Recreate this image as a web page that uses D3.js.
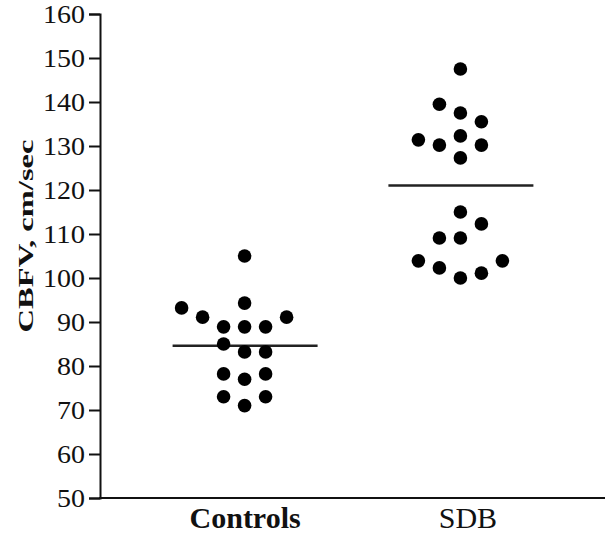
<!DOCTYPE html>
<html>
<head>
<meta charset="utf-8">
<title>CBFV</title>
<style>
  body { margin: 0; background: #fff; }
  text { font-family: "Liberation Serif", "Times New Roman", serif; fill: #111; }
</style>
</head>
<body>
<div id="chart"></div>
<script src="https://cdnjs.cloudflare.com/ajax/libs/d3/7.8.5/d3.min.js"></script>
<script>
const groups = ['Controls', 'SDB'];
const controlsValues = [105, 94.3, 93.2, 91.1, 91.1, 88.9, 88.9, 88.9, 85, 83.2, 83.2, 78.2, 78.2, 77, 73, 73, 71];
const controlsSlots  = [0, 0, -3, -2, 2, -1, 0, 1, -1, 0, 1, -1, 1, 0, -1, 1, 0];
const sdbValues = [147.5, 139.5, 137.5, 135.5, 132.3, 131.4, 130.2, 130.2, 127.3,
                   115, 112.3, 109.1, 109.1, 103.9, 103.9, 102.3, 101.1, 100];
const sdbSlots  = [0, -1, 0, 1, 0, -2, -1, 1, 0, 0, 1, -1, 0, -2, 2, -1, 1, 0];
const means = [84.6, 121];
const yTicks = [50, 60, 70, 80, 90, 100, 110, 120, 130, 140, 150, 160];

const width = 611, height = 533;
const svg = d3.select('#chart').append('svg')
  .attr('width', width)
  .attr('height', height);

const x = d3.scalePoint().domain(groups).range([100, 605]).padding(0.67);
const y = d3.scaleLinear().domain([50, 160]).range([498, 14]);
const slotW = 21;

// y axis
const yAxis = svg.append('g')
  .attr('transform', 'translate(100,0)')
  .call(d3.axisLeft(y).tickValues(yTicks).tickSize(11).tickPadding(4));
yAxis.select('.domain').attr('stroke', '#111').attr('stroke-width', 2);
yAxis.selectAll('.tick line').attr('stroke', '#111').attr('stroke-width', 2);
yAxis.selectAll('.tick text')
  .attr('font-size', 26)
  .attr('font-family', '"Liberation Serif", serif')
  .attr('fill', '#111')
  .attr('textLength', d => String(d).length * 14)
  .attr('lengthAdjust', 'spacingAndGlyphs');

// x axis line
const xAxis = svg.append('g')
  .attr('transform', 'translate(0,498)')
  .call(d3.axisBottom(x).tickSize(0));
xAxis.select('.domain').attr('d', 'M99,0H605').attr('stroke', '#111').attr('stroke-width', 2);
xAxis.selectAll('.tick text')
  .attr('y', 30)
  .attr('dy', 0)
  .attr('font-size', 30)
  .attr('font-family', '"Liberation Serif", serif')
  .attr('fill', '#111')
  .attr('font-weight', d => d === 'Controls' ? 'bold' : 'normal')
  .attr('dx', d => d === 'SDB' ? 7 : 0);

// y label
svg.append('text')
  .attr('transform', 'translate(33,236) rotate(-90)')
  .attr('text-anchor', 'middle')
  .attr('font-size', 21)
  .attr('font-weight', 'bold')
  .attr('textLength', 193)
  .attr('lengthAdjust', 'spacingAndGlyphs')
  .text('CBFV, cm/sec');

// mean lines
svg.selectAll('.mean')
  .data(groups)
  .enter().append('line')
  .attr('class', 'mean')
  .attr('x1', d => x(d) - 72)
  .attr('x2', d => x(d) + 73)
  .attr('y1', (d, i) => y(means[i]))
  .attr('y2', (d, i) => y(means[i]))
  .attr('stroke', '#222')
  .attr('stroke-width', 2.5);

// dots
const points = controlsValues.map((v, i) => ({g: 'Controls', v: v, s: controlsSlots[i]}))
  .concat(sdbValues.map((v, i) => ({g: 'SDB', v: v, s: sdbSlots[i]})));

svg.selectAll('.dot')
  .data(points)
  .enter().append('circle')
  .attr('class', 'dot')
  .attr('cx', d => x(d.g) + d.s * slotW)
  .attr('cy', d => y(d.v))
  .attr('r', 6.8)
  .attr('fill', '#000');
</script>
</body>
</html>
